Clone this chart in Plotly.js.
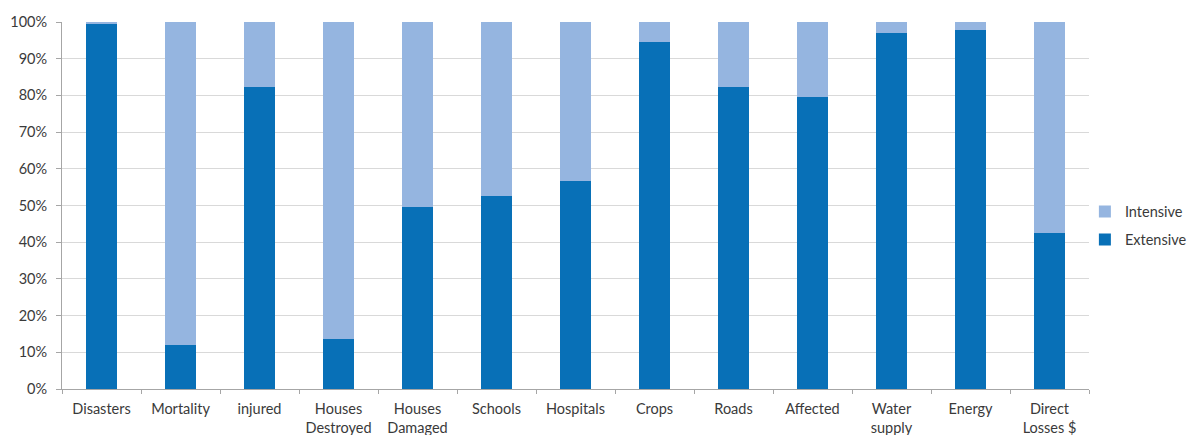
<!DOCTYPE html>
<html>
<head>
<meta charset="utf-8">
<script src="https://cdn.plot.ly/plotly-3.0.1.min.js"></script>
<style>html,body{margin:0;padding:0;background:#fff;}#chart{width:1195px;height:435px;}</style>
</head>
<body>
<div id="chart"></div>
<script>
const categories = ["Disasters", "Mortality", "injured", "Houses<br>Destroyed", "Houses<br>Damaged", "Schools", "Hospitals", "Crops", "Roads", "Affected", "Water<br>supply", "Energy", "Direct<br>Losses $"];
const extensive = [99.5, 12.0, 82.2, 13.7, 49.5, 52.7, 56.6, 94.5, 82.2, 79.6, 97.1, 97.8, 42.4];
const intensive = [0.5, 88.0, 17.8, 86.3, 50.5, 47.3, 43.4, 5.5, 17.8, 20.4, 2.9, 2.2, 57.6];
const yTickVals = [0, 10, 20, 30, 40, 50, 60, 70, 80, 90, 100];
const yTickText = ["0%", "10%", "20%", "30%", "40%", "50%", "60%", "70%", "80%", "90%", "100%"];

const font = "Lato, 'Open Sans', sans-serif";
const traces = [
  {type: "bar", name: "Extensive", x: categories, y: extensive, marker: {color: "#0870b7"}, legendgroup: "b", legendrank: 2, hoverinfo: "skip"},
  {type: "bar", name: "Intensive", x: categories, y: intensive, marker: {color: "#95b5e0"}, legendgroup: "a", legendrank: 1, hoverinfo: "skip"}
];
const layout = {
  width: 1195, height: 435,
  margin: {l: 62, r: 106, t: 22, b: 46, autoexpand: false},
  barmode: "stack",
  bargap: 0.6,
  paper_bgcolor: "#fff", plot_bgcolor: "#fff",
  font: {family: font, size: 14.5, color: "#3a3a3a"},
  showlegend: true,
  legend: {x: 0.996, xanchor: "left", y: 0.445, yanchor: "middle", traceorder: "grouped", tracegroupgap: 6, font: {size: 14.5, color: "#3a3a3a"}, itemwidth: 30, bgcolor: "rgba(0,0,0,0)"},
  xaxis: {
    type: "category", tickson: "boundaries", ticks: "outside", ticklen: 4, tickcolor: "#a6a6a6",
    showline: true, linecolor: "#a6a6a6", linewidth: 1, showgrid: false, tickangle: 0,
    ticklabelstandoff: 7,
    tickfont: {size: 14.5, color: "#3a3a3a"}, fixedrange: true
  },
  yaxis: {
    range: [0, 100], tickvals: yTickVals, ticktext: yTickText,
    ticks: "outside", ticklen: 5, tickcolor: "#a6a6a6",
    showline: true, linecolor: "#a6a6a6", linewidth: 1,
    showgrid: true, gridcolor: "#d9d9d9", gridwidth: 1, zeroline: false,
    ticklabelstandoff: 6,
    tickfont: {size: 14.5, color: "#3a3a3a"}, fixedrange: true
  }
};
Plotly.newPlot("chart", traces, layout, {displayModeBar: false, staticPlot: true});
</script>
</body>
</html>
